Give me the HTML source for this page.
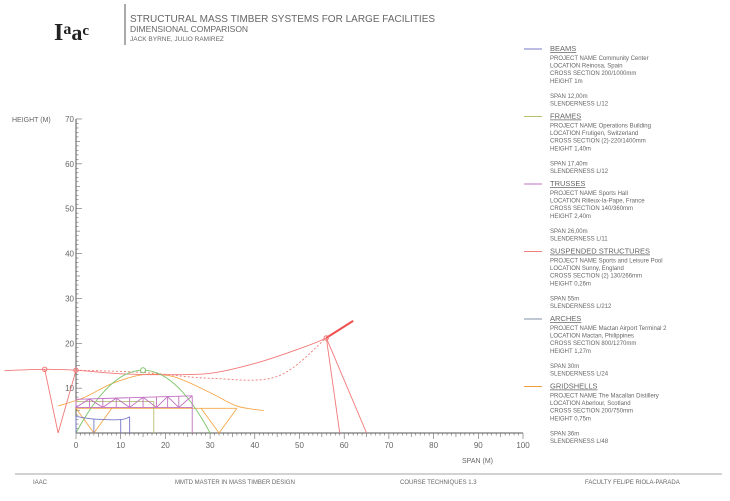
<!DOCTYPE html>
<html><head><meta charset="utf-8"><style>
body{margin:0;width:730px;height:496px;background:#fff;overflow:hidden;font-family:"Liberation Sans",sans-serif;}
svg text{font-family:"Liberation Sans",sans-serif;fill:#666;}
</style></head><body>
<svg id="c" width="730" height="496">
<g>
<text x="54" y="40" font-size="24" font-weight="bold" style="fill:#222;font-family:'Liberation Serif',serif">I<tspan font-size="16" dy="-6">a</tspan><tspan dy="6" font-size="22">a</tspan><tspan font-size="15" dy="-5">c</tspan></text>
<line x1="125" y1="4" x2="125" y2="45" stroke="#555" stroke-width="1"/>
<text x="130" y="22" font-size="10">STRUCTURAL MASS TIMBER SYSTEMS FOR LARGE FACILITIES</text>
<text x="130" y="32" font-size="8.5">DIMENSIONAL COMPARISON</text>
<text x="130" y="41" font-size="6.5">JACK BYRNE, JULIO RAMIREZ</text>
</g>
<g id="axes"></g>
<g id="marks"></g>
<g id="legend"></g>
<g>
<line x1="15" y1="474" x2="722" y2="474" stroke="#888" stroke-width="0.8"/>
<text x="33" y="484" font-size="6">IAAC</text>
<text x="175" y="484" font-size="6">MMTD MASTER IN MASS TIMBER DESIGN</text>
<text x="400" y="484" font-size="6">COURSE TECHNIQUES 1.3</text>
<text x="585" y="484" font-size="6">FACULTY FELIPE RIOLA-PARADA</text>
</g>
</svg>
<script>
const xTicks=[0,10,20,30,40,50,60,70,80,90,100];
const yTicks=[10,20,30,40,50,60,70];
const beams=[[0,0],[0,3.7],[4,3.1],[10,3.0],[12,3.6],[12,0]];
const beamPosts=[4,10];
const framePost=[17.4,7];
const trussTop=[[0,7.5],[26,8.3]];
const trussBottom=[[0,5.7],[26,5.7]];
const trussPanels=[0,3,6,9,12,15,18,20.5,23,26];
const cable=[[-16,13.9],[-7,14.2],[0,14],[10,13.2],[20,13],[30,13.3],[40,15.5],[50,18.8],[56,21.2],[62,25]];
const cableDashed=[[0,14],[15,13.5],[30,12.2],[45,12.6],[56,21.2]];
const masts=[[[-7,14.2],[-4,0],[0,14]],[[56,21.2],[59,0]],[[56,21.2],[65,0]]];
const archSpan=30, archRise=14;
const grid=[[-4,6],[2,8],[8,11],[15,13],[22,12.5],[30,9],[36,6],[42,5]];
const gridBase=[[0,5.5],[36,5.5]];
const gridLegs=[[[0,5.5],[4,0],[8,5.5]],[[28,5.5],[32,0],[36,5.5]]];
const legendNames=["BEAMS","FRAMES","TRUSSES","SUSPENDED STRUCTURES","ARCHES","GRIDSHELLS"];
const legendColors=["#7478c8","#b8c070","#c070c0","#f08080","#8090a8","#f0a040"];
const legendLines=[
["PROJECT NAME Community Center","LOCATION Reinosa, Spain","CROSS SECTION 200/1000mm","HEIGHT 1m","","SPAN 12,00m","SLENDERNESS L/12"],
["PROJECT NAME Operations Building","LOCATION  Frutigen, Switzerland","CROSS SECTION (2)-220/1400mm","HEIGHT 1,40m","","SPAN 17,40m","SLENDERNESS L/12"],
["PROJECT NAME Sports Hall","LOCATION Rilleux-la-Pape, France","CROSS SECTION 140/360mm","HEIGHT 2,40m","","SPAN 26,00m","SLENDERNESS L/11"],
["PROJECT NAME Sports and Leisure Pool","LOCATION Sunny, England","CROSS SECTION (2) 130/266mm","HEIGHT 0,26m","","SPAN 55m","SLENDERNESS L/212"],
["PROJECT NAME Mactan Airport Terminal 2","LOCATION Mactan, Philippines","CROSS SECTION 800/1270mm","HEIGHT 1,27m","","SPAN 30m","SLENDERNESS L/24"],
["PROJECT NAME The Macallan Distillery","LOCATION Aberlour, Scotland","CROSS SECTION  200/750mm","HEIGHT 0,75m","","SPAN 36m","SLENDERNESS L/48"]];
const NS="http://www.w3.org/2000/svg";
const X=v=>76+v*4.47, Y=v=>433-v*4.486;
function mk(tag,attrs,parent){const e=document.createElementNS(NS,tag);for(const k in attrs)e.setAttribute(k,attrs[k]);parent.appendChild(e);return e;}
const ax=document.getElementById('axes'), mg=document.getElementById('marks'), lg=document.getElementById('legend');
let e;
e=mk('line',{x1:X(0),y1:Y(0),x2:X(100),y2:Y(0),stroke:'#555','stroke-width':1},ax);


e=mk('line',{x1:X(0),y1:Y(0),x2:X(0),y2:Y(70),stroke:'#555','stroke-width':1},ax);


for(let v=0;v<=100;v++){mk('line',{x1:X(v),y1:Y(0),x2:X(v),y2:Y(0)+(v%10==0?6:(v%5==0?4:2.5)),stroke:'#666','stroke-width':0.6},ax);}
for(let v=0;v<=70;v++){mk('line',{x1:X(0),y1:Y(v),x2:X(0)+(v%10==0?6:(v%5==0?4:2.5)),y2:Y(v),stroke:'#666','stroke-width':0.6},ax);}
xTicks.forEach(v=>{e=mk('text',{x:X(v),y:Y(0)+15,'font-size':8,'text-anchor':'middle'},ax);e.textContent=v;

});
yTicks.forEach(v=>{e=mk('text',{x:X(0)-2,y:Y(v)+3,'font-size':8,'text-anchor':'end'},ax);e.textContent=v;

});
e=mk('text',{x:12,y:Y(70)+3,'font-size':7},ax);e.textContent='HEIGHT  (M)';


e=mk('text',{x:462,y:463,'font-size':7},ax);e.textContent='SPAN  (M)';


const pts=a=>a.map(p=>X(p[0])+','+Y(p[1])).join(' ');
function poly(a,col,name,extra){const o=Object.assign({points:pts(a),fill:'none',stroke:col,'stroke-width':0.9},extra||{});const p=mk('polyline',o,mg);

return p;}
function smooth(a,col,name,extra){let d='M'+X(a[0][0])+','+Y(a[0][1]);for(let i=1;i<a.length;i++){const p0=a[Math.max(0,i-2)],p1=a[i-1],p2=a[i],p3=a[Math.min(a.length-1,i+1)];
const c1=[X(p1[0])+(X(p2[0])-X(p0[0]))/6,Y(p1[1])+(Y(p2[1])-Y(p0[1]))/6],c2=[X(p2[0])-(X(p3[0])-X(p1[0]))/6,Y(p2[1])-(Y(p3[1])-Y(p1[1]))/6];
d+=' C'+c1+' '+c2+' '+X(p2[0])+','+Y(p2[1]);}
const o=Object.assign({d:d,fill:'none',stroke:col,'stroke-width':0.9},extra||{});const p=mk('path',o,mg);

return p;}
smooth(grid,'#f5a84a','gridshell-curve');
poly(gridBase,'#f5a84a','gridshell-base');
gridLegs.forEach(l=>poly(l,'#f5a84a','gridshell-leg'));
smooth(cable,'#f27878','suspended-cable');
smooth(cableDashed,'#f27878','suspended-cable-dashed',{'stroke-dasharray':'2,2'});
masts.forEach(m=>poly(m,'#f27878','suspended-mast'));
poly(cable.slice(-2),'#f05050','suspended-cable-end',{'stroke-width':2});
[[-7,14.2],[0,14],[56,21.2]].forEach(p=>{e=mk('circle',{cx:X(p[0]),cy:Y(p[1]),r:2.2,fill:'none',stroke:'#f27878'},mg);

});
const archPts=[];for(let i=0;i<=30;i++){const x=archSpan*i/30;archPts.push([x,4*archRise*x*(archSpan-x)/archSpan/archSpan]);}
poly(archPts,'#7cc46a','arch');
e=mk('circle',{cx:X(archSpan/2),cy:Y(archRise),r:2.5,fill:'#fff',stroke:'#7cc46a'},mg);


poly([[framePost[0],0],[framePost[0],framePost[1]],[0,framePost[1]]],'#b8c070','frame');
poly(trussTop,'#c070c0','truss-top-chord');
poly(trussBottom,'#c070c0','truss-bottom-chord');
const tY=(x,a)=>a[0][1]+(a[1][1]-a[0][1])*x/26;
trussPanels.forEach((x,i)=>{poly([[x,tY(x,trussBottom)],[x,tY(x,trussTop)]],'#c070c0','truss-vertical');
if(i<trussPanels.length-1){const x2=trussPanels[i+1];poly(i%2?[[x,tY(x,trussTop)],[x2,tY(x2,trussBottom)]]:[[x,tY(x,trussBottom)],[x2,tY(x2,trussTop)]],'#c070c0','truss-diagonal');}});
poly([[26,0],[26,tY(26,trussBottom)]],'#c070c0','truss-support');
smooth(beams.slice(1,5),'#7478c8','beam-top');
poly([beams[0],beams[1]],'#7478c8','beam-post');
poly([beams[4],beams[5]],'#7478c8','beam-post');
beamPosts.forEach(x=>poly([[x,0],[x,3.1]],'#7478c8','beam-post'));
legendNames.forEach((n,i)=>{const y0=50+i*67.5;
const g=mk('g',{},lg);


mk('line',{x1:524,y1:y0-1,x2:542,y2:y0-1,stroke:legendColors[i],'stroke-width':1},g);
let t=mk('text',{x:550,y:y0+1,'font-size':7.5,'text-decoration':'underline'},g);t.textContent=n;
legendLines[i].forEach((s,j)=>{if(!s)return;t=mk('text',{x:550,y:y0+10+j*7.6,'font-size':6},g);t.textContent=s;});});
</script>
</body></html>
